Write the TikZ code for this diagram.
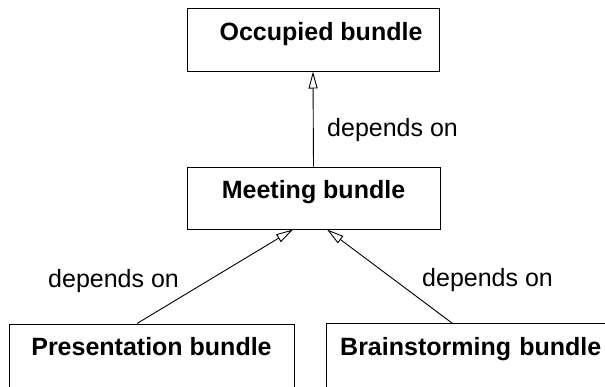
\documentclass[tikz,border=0pt]{standalone}
\usepackage{fontspec}
\setmainfont{Liberation Sans}
\usetikzlibrary{arrows.meta}
\tikzset{
  bundletext/.style={inner sep=0pt, anchor=base, align=center,
    font=\fontsize{25}{30}\selectfont\bfseries},
  bundle/.style={bundletext, draw, line width=1pt},
  edge/.style={line width=1pt},
  dep/.style={draw, line width=0.9pt, -{Triangle[open, length=17pt, width=9pt, line width=0.9pt]}},
  deplabel/.style={inner sep=0pt, anchor=base west, font=\fontsize{25}{30}\selectfont}
}
\begin{document}
\begin{tikzpicture}[x=1pt, y=-1pt]
  \useasboundingbox (0,0) rectangle (605,386);
  % bundles
  \node[bundle, minimum width=252pt, text height=32pt, text depth=31pt] (occ) at (313,40) {\hspace*{16pt}Occupied bundle};
  \node[bundle, minimum width=253pt, text height=31pt, text depth=31pt] (meet) at (313.5,198) {Meeting bundle};
  \node[bundle, minimum width=285pt, text height=31pt, text depth=60pt] (pres) at (151.5,355) {Presentation bundle};
  % this one runs on past the right edge of the page: only its top and left sides show
  \node[bundletext, anchor=base west, align=left, text width=320pt, inner xsep=14pt,
        text height=31pt, text depth=60pt] (brain) at (326,355) {Brainstorming bundle};
  \draw[edge] (brain.south west) -- (brain.north west) -- (brain.north east);
  % dependencies
  \draw[dep] (meet.north) -- (occ.south);
  \draw[dep] ([xshift=-14.5pt]pres.north) -- ([xshift=-20.5pt]meet.south);
  \draw[dep] ([xshift=127pt]brain.north west) -- ([xshift=13.5pt]meet.south);
  % labels
  \node[deplabel] (l1) at (327,136) {depends on};
  \node[deplabel] (l2) at (48,287) {depends on};
  \node[deplabel] (l3) at (422,286) {depends on};
\end{tikzpicture}
\end{document}
